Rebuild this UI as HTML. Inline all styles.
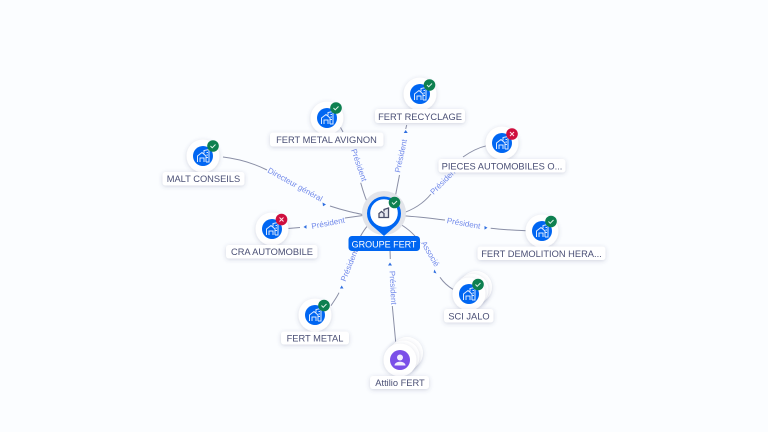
<!DOCTYPE html>
<html><head><meta charset="utf-8"><style>
html,body{margin:0;padding:0;background:#fbfdff}
svg{display:block}
.e{fill:none;stroke:#8a8fa6;stroke-width:1}
.el{font:8px "Liberation Sans",sans-serif;fill:#7189ea}
.a{fill:#2f6fe0}
.lb{fill:#fff;filter:url(#s)}
.t{font:9.3px "Liberation Sans",sans-serif;fill:#4a4f75;text-anchor:middle}
.ic{fill:none;stroke:#dce9ff;stroke-width:1}
</style></head><body>
<svg width="768" height="432" viewBox="0 0 768 432" xmlns="http://www.w3.org/2000/svg">
<defs>
<filter id="s" x="-30%" y="-60%" width="160%" height="220%"><feDropShadow dx="0" dy="1" stdDeviation="2" flood-color="#4a5080" flood-opacity=".24"/></filter>
<g id="b"><path class="ic" d="M-5.500 6V0L-1 -3.500 3 0V6M-3 6V2H1V6M1 -2.500V-5.500L6 -6.500V6H3M3.500 -3.500H5M3.500 -1H5M3.500 1.500H5"/></g>
<g id="n"><circle r="16.500" fill="#fff" filter="url(#s)"/><circle r="10" fill="#0066f2"/><use href="#b"/></g>
<g id="ok"><circle r="5.800" fill="#0d8050"/><path d="M-2.500 0L-.8 1.800 2.500 -1.500" fill="none" stroke="#dff5ea" stroke-width="1"/></g>
<g id="no"><circle r="5.800" fill="#cf0f3e"/><path d="M-2 -2L2 2M2 -2L-2 2" fill="none" stroke="#ffe3ea" stroke-width="1"/></g>
</defs>
<rect width="768" height="432" fill="#fbfdff"/>

<path class="e" d="M223 157C240 159 255 164 267 170"/>
<path class="e" d="M330 206C345 211 355 213 370 216"/>
<path class="e" d="M340 126.500L343 132"/>
<path class="e" d="M360.700 182.700C363 191 365 198 369 206"/>
<path class="e" d="M406.700 125L405.700 129"/>
<path class="e" d="M399.500 175L395 198"/>
<path class="e" d="M486.700 145.700C477 148 470 152 463 157"/>
<path class="e" d="M431 194C423 204 413 210 400 214"/>
<path class="e" d="M400 215.700C414 216 428 218 445 220"/>
<path class="e" d="M490.700 228.300C505 230 515 230 526 230.700"/>
<path class="e" d="M288 228.500L300 227.500"/>
<path class="e" d="M345 218L370 214.500"/>
<path class="e" d="M331 305.700C334 301 337 297 339 292.700"/>
<path class="e" d="M354 252C358 240 362 232 369 224"/>
<path class="e" d="M390 250L390.300 259"/>
<path class="e" d="M392.300 306L395.700 342"/>
<path class="e" d="M440 277.300C444 283 449 287 453 289.300"/>
<path class="e" d="M400 224C410 230 416 236 420 243"/>

<path class="a" d="M322.500 202.500l3.500 2-3 1.800zM405.700 130l2 3h-4zM484.500 226l3 1.800-3 1.800zM306.500 225l-3 2 3 1.800zM341.700 285.500l1.800 3h-3.600zM390 262.500l2 3h-4zM436.500 273.500l-3-1 1-3z"/>

<text class="el" transform="translate(267 172) rotate(29)">Directeur général</text>
<text class="el" transform="translate(312 229) rotate(-11)">Président</text>
<text class="el" transform="translate(351 150) rotate(71)">Président</text>
<text class="el" transform="translate(400 173) rotate(-78)">Président</text>
<text class="el" transform="translate(433.500 195) rotate(-45)">Président</text>
<text class="el" transform="translate(446.500 223) rotate(10)">Président</text>
<text class="el" transform="translate(345.500 282) rotate(-68)">Président</text>
<text class="el" transform="translate(389.500 271) rotate(87)">Président</text>
<text class="el" transform="translate(421 243) rotate(60)">Associé</text>

<use href="#n" x="203" y="156"/><use href="#ok" x="213" y="146"/>
<use href="#n" x="327" y="118"/><use href="#ok" x="336" y="108"/>
<use href="#n" x="420" y="94"/><use href="#ok" x="429.500" y="85"/>
<use href="#n" x="502" y="143"/><use href="#no" x="512" y="134"/>
<use href="#n" x="542" y="231"/><use href="#ok" x="551" y="221.500"/>
<use href="#n" x="272" y="229"/><use href="#no" x="281.500" y="219.500"/>
<use href="#n" x="315" y="315"/><use href="#ok" x="324" y="305.500"/>

<circle cx="476" cy="287" r="16" fill="#fff" filter="url(#s)"/>
<circle cx="472.500" cy="290" r="16" fill="#fff" filter="url(#s)"/>
<use href="#n" x="469" y="294"/><use href="#ok" x="478" y="284.500"/>

<circle cx="407" cy="353" r="16" fill="#fff" filter="url(#s)"/>
<circle cx="403.500" cy="356.500" r="16" fill="#fff" filter="url(#s)"/>
<circle cx="400" cy="360" r="16.500" fill="#fff" filter="url(#s)"/>
<circle cx="400" cy="360" r="10" fill="#7b4fe8"/>
<circle cx="400" cy="357.500" r="3" fill="#f2edff"/>
<path d="M394.500 365.500c0-5 11-5 11 0z" fill="#f2edff"/>

<circle cx="384" cy="213" r="22" fill="#e2e4ea"/>
<path d="M384 236L372 225.500A17 17 0 1 1 396 225.500Z" fill="#0066f2"/>
<circle cx="384" cy="213" r="13.800" fill="#fff"/>
<path d="M379 217.500V213.500L381.500 211.500 384 213.500V217.500ZM384 211.500V209.500L388.500 208V217.500H384" fill="#e8e9f0" stroke="#4a4f6a" stroke-width="1.300"/>
<use href="#ok" x="394.500" y="202.500"/>

<rect class="lb" x="162.500" y="172" width="82" height="13.500" rx="3"/><text class="t" x="203.500" y="182">MALT CONSEILS</text>
<rect class="lb" x="270" y="132.500" width="113.500" height="14" rx="3"/><text class="t" x="326.500" y="143">FERT METAL AVIGNON</text>
<rect class="lb" x="375" y="109" width="90" height="14" rx="3"/><text class="t" x="420" y="120">FERT RECYCLAGE</text>
<rect class="lb" x="438.500" y="159" width="127" height="13.500" rx="3"/><text class="t" x="502" y="169.500">PIECES AUTOMOBILES O...</text>
<rect class="lb" x="477.500" y="246.500" width="128" height="13.500" rx="3"/><text class="t" x="541.500" y="257">FERT DEMOLITION HERA...</text>
<rect class="lb" x="226" y="245" width="91.500" height="13.500" rx="3"/><text class="t" x="272" y="255">CRA AUTOMOBILE</text>
<rect class="lb" x="444" y="309" width="49.500" height="13.500" rx="3"/><text class="t" x="469" y="319.500">SCI JALO</text>
<rect class="lb" x="281" y="331.500" width="68" height="13" rx="3"/><text class="t" x="315" y="341.500">FERT METAL</text>
<rect class="lb" x="370" y="376" width="59" height="13" rx="3"/><text class="t" x="400" y="386">Attilio FERT</text>
<rect x="348.500" y="236" width="71.500" height="15" rx="3.500" fill="#0066f2"/><text class="t" x="384" y="247.500" style="fill:#fff;font-size:9px">GROUPE FERT</text>
</svg>
</body></html>
